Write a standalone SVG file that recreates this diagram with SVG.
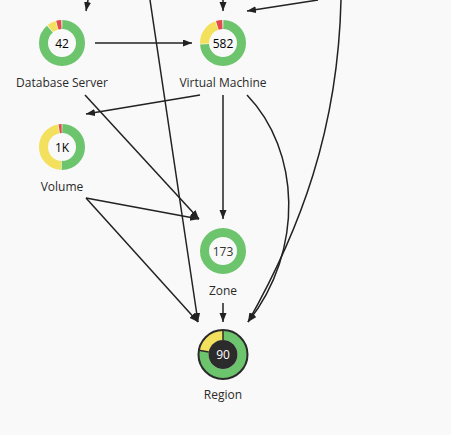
<svg xmlns="http://www.w3.org/2000/svg" width="451" height="435" viewBox="0 0 451 435">
<defs>
<marker id="ah" markerUnits="userSpaceOnUse" markerWidth="10" markerHeight="8" refX="9" refY="3.5" orient="auto">
<path d="M0,0 L9,3.5 L0,7 z" fill="#222"/>
</marker>
<style>
.e{fill:none;stroke:#222;stroke-width:1.5;marker-end:url(#ah)}
.seg{fill:none;stroke-width:9}
.g{stroke:#6cc46d}
.y{stroke:#f3e05c}
.r{stroke:#e34a4a}
.lbl{font-family:"Open Sans","Noto Sans",sans-serif;font-size:12px;fill:#2a2a2a;text-anchor:middle}
.num{font-family:"Open Sans","Noto Sans",sans-serif;font-size:12px;font-weight:500;fill:#000;text-anchor:middle}
</style>
</defs>
<rect width="451" height="435" fill="#f9f9f9"/>
<g id="connectors">
<path class="e" d="M88,0 L86,11"/>
<path class="e" d="M223,0 L223,11"/>
<path class="e" d="M318,0 L247,11"/>
<path class="e" d="M95,43 L192,43"/>
<path class="e" d="M200,95 L86,114"/>
<path class="e" d="M85,95 L199,219"/>
<path class="e" d="M223,95 L223,219"/>
<path class="e" d="M86,198 L199,219"/>
<path class="e" d="M86,198 L198,322"/>
<path class="e" d="M150,0 L198,322"/>
<path class="e" d="M223,303 L223,322"/>
<path class="e" d="M247,95 C300,150 305,250 248,322"/>
<path class="e" d="M341,0 C338,130 300,230 248,322"/>
</g>
<g id="database-server">
<circle class="seg g" cx="62" cy="43" r="18.5" pathLength="360" stroke-dasharray="318 360" stroke-dashoffset="-1" transform="rotate(-90 62 43)"/>
<circle class="seg y" cx="62" cy="43" r="18.5" pathLength="360" stroke-dasharray="22 360" stroke-dashoffset="-321" transform="rotate(-90 62 43)"/>
<circle class="seg r" cx="62" cy="43" r="18.5" pathLength="360" stroke-dasharray="13 360" stroke-dashoffset="-345" transform="rotate(-90 62 43)"/>
<text class="num" x="62" y="47.5">42</text>
<text class="lbl" x="62" y="87">Database Server</text>
</g>
<g id="virtual-machine">
<circle class="seg g" cx="223" cy="43" r="18.5" pathLength="360" stroke-dasharray="265 360" stroke-dashoffset="-1" transform="rotate(-90 223 43)"/>
<circle class="seg y" cx="223" cy="43" r="18.5" pathLength="360" stroke-dasharray="72 360" stroke-dashoffset="-268" transform="rotate(-90 223 43)"/>
<circle class="seg r" cx="223" cy="43" r="18.5" pathLength="360" stroke-dasharray="16 360" stroke-dashoffset="-342" transform="rotate(-90 223 43)"/>
<text class="num" x="223" y="47.5">582</text>
<text class="lbl" x="223" y="87">Virtual Machine</text>
</g>
<g id="volume">
<circle class="seg g" cx="62" cy="147" r="18.5" pathLength="360" stroke-dasharray="180 360" stroke-dashoffset="-1" transform="rotate(-90 62 147)"/>
<circle class="seg y" cx="62" cy="147" r="18.5" pathLength="360" stroke-dasharray="166 360" stroke-dashoffset="-183" transform="rotate(-90 62 147)"/>
<circle class="seg r" cx="62" cy="147" r="18.5" pathLength="360" stroke-dasharray="8 360" stroke-dashoffset="-351" transform="rotate(-90 62 147)"/>
<text class="num" x="62" y="151.5">1K</text>
<text class="lbl" x="62" y="191">Volume</text>
</g>
<g id="zone">
<circle class="seg g" cx="223" cy="251" r="18.5"/>
<text class="num" x="223" y="255.5" style="font-weight:400;fill:#333">173</text>
<text class="lbl" x="223" y="295">Zone</text>
</g>
<g id="region">
<circle cx="223" cy="354.5" r="19.5" fill="none" stroke="#6cc46d" stroke-width="10"/>
<circle cx="223" cy="354.5" r="19.5" fill="none" stroke="#f3e05c" stroke-width="10" pathLength="360" stroke-dasharray="80 360" stroke-dashoffset="-280" transform="rotate(-90 223 354.5)"/>
<line x1="223" y1="340" x2="223" y2="330" stroke="#2b2b2b" stroke-width="1.5"/>
<line x1="208.7" y1="352" x2="198.9" y2="350.3" stroke="#2b2b2b" stroke-width="1.5"/>
<circle cx="223" cy="354.5" r="24.5" fill="none" stroke="#2b2b2b" stroke-width="2"/>
<circle cx="223" cy="354.5" r="14.5" fill="#2b2b2b"/>
<text class="num" x="223" y="359" style="font-weight:400;fill:#fff">90</text>
<text class="lbl" x="223" y="398.5">Region</text>
</g>
</svg>
